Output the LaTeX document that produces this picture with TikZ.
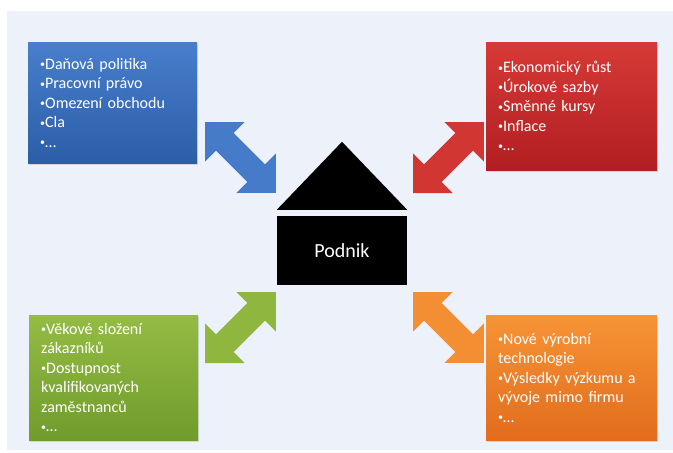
\documentclass[tikz,border=0pt]{standalone}
\usepackage{fontspec}
\setmainfont{Carlito}
\usetikzlibrary{positioning}
\usetikzlibrary{shadows}

\definecolor{bgcol}{RGB}{237,241,249}
\definecolor{blueA}{RGB}{72,126,204}
\definecolor{blueB}{RGB}{44,94,168}
\definecolor{redA}{RGB}{214,58,54}
\definecolor{redB}{RGB}{178,30,34}
\definecolor{greenA}{RGB}{148,188,68}
\definecolor{greenB}{RGB}{112,156,44}
\definecolor{orangeA}{RGB}{246,148,54}
\definecolor{orangeB}{RGB}{226,108,28}

\newcommand{\bul}{{\fontsize{10}{10}\selectfont\raisebox{1.5pt}{•}}}

\tikzset{
  factor/.style={anchor=north west, inner xsep=12pt, inner ysep=0pt,
    align=left, text=white, font=\fontsize{16}{19.5}\selectfont,
    drop shadow={opacity=.25, shadow xshift=1pt, shadow yshift=-1.5pt}},
  dblarrow/.pic={
    \fill[pic actions] (0,0) -- (28,28) -- (28,12.5) -- (72.4,12.5) -- (72.4,28)
      -- (100.4,0) -- (72.4,-28) -- (72.4,-12.5) -- (28,-12.5) -- (28,-28) -- cycle;
  }
}

\begin{document}
\begin{tikzpicture}[x=1pt, y=-1pt]
    \useasboundingbox (0,0) rectangle (673,453);
    \fill[bgcol] (7,11) rectangle (673,450);

    % podnik in the middle
    \node[fill=black, text=white, minimum width=130pt, minimum height=69pt,
        font=\fontsize{20}{24}\selectfont] (podnik) at (342,250.5) {Podnik};
    \fill ([yshift=6pt]podnik.north west) -- ([yshift=74pt]podnik.north)
        -- ([yshift=6pt]podnik.north east) -- cycle;

    % okoli
    \node[factor, top color=blueA, bottom color=blueB, text width=145pt,
        minimum height=121pt] (politika) at (28,42)
        {\bul Daňová politika\\\bul Pracovní právo\\\bul Omezení obchodu\\\bul Cla\\\bul…};
    \node[factor, top color=redA, bottom color=redB, text width=147pt,
        minimum height=128pt] (ekonomika) at (486,42)
        {\bul Ekonomický růst\\\bul Úrokové sazby\\\bul Směnné kursy\\\bul Inflace\\\bul…};
    \node[factor, top color=greenA, bottom color=greenB, text width=145pt,
        minimum height=125pt] (spolecnost) at (29,315)
        {\bul Věkové složení\\zákazníků\\\bul Dostupnost\\kvalifikovaných\\zaměstnanců\\\bul…};
    \node[factor, top color=orangeA, bottom color=orangeB, text width=147pt,
        minimum height=125pt] (technologie) at (486,315)
        {\bul Nové výrobní\\technologie\\\bul Výsledky výzkumu a\\vývoje mimo firmu\\\bul…};

    % sipky
    \pic[fill=blueA!90!blueB, rotate=-45] (sipkaA) at (205,122) {dblarrow};
    \pic[fill=redA!85!redB, rotate=45] (sipkaB) at (413,193) {dblarrow};
    \pic[fill=greenA!85!greenB, rotate=45] (sipkaC) at (205,363) {dblarrow};
    \pic[fill=orangeA!85!orangeB, rotate=-45] (sipkaD) at (413,292) {dblarrow};
\end{tikzpicture}
\end{document}
